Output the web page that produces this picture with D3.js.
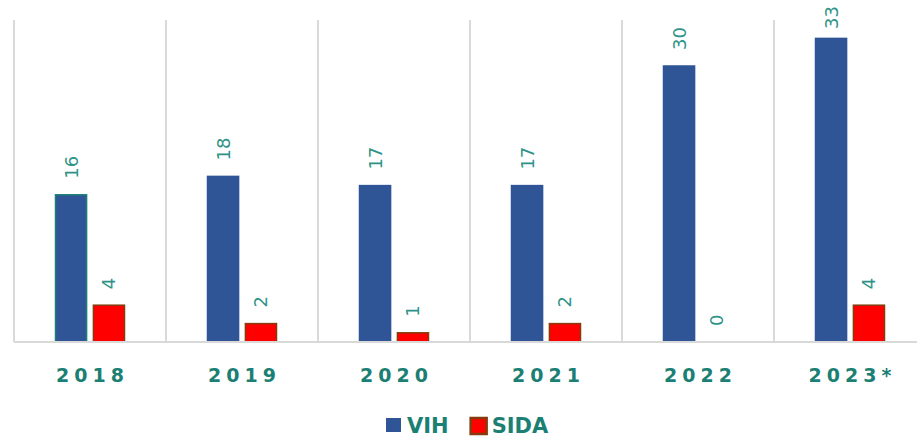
<!DOCTYPE html>
<html>
<head>
<meta charset="utf-8">
<script src="https://cdnjs.cloudflare.com/ajax/libs/d3/7.8.5/d3.min.js"></script>
<style>
    body { margin: 0; background: #fff; }
    svg { display: block; font-family: "DejaVu Sans", Verdana, sans-serif; }
</style>
</head>
<body>
<script>
(function(){

    //chart data
    var years = ["2018", "2019", "2020", "2021", "2022", "2023*"];
    var seriesNames = ["VIH", "SIDA"];
    var vih = [16, 18, 17, 17, 30, 33];
    var sida = [4, 2, 1, 2, 0, 4];

    var fills = {VIH: "#2f5597", SIDA: "#ff0000"};
    var strokes = {VIH: "#2f5597", SIDA: "#843c0c"};

    var width = 917, height = 437;
    var left = 14, baseline = 342, top = 20;

    //build rows for the bars
    var rows = [];
    years.forEach(function(y, i){
        rows.push({year: y, series: "VIH", value: vih[i], i: i});
        rows.push({year: y, series: "SIDA", value: sida[i], i: i});
    });

    var svg = d3.select("body")
        .append("svg")
        .attr("width", width)
        .attr("height", height);

    //scales
    var x0 = d3.scaleBand()
        .domain(years)
        .range([left, left + 152 * years.length]);

    var x1 = d3.scaleBand()
        .domain(seriesNames)
        .range([-34.5, 34.5])
        .paddingInner(0.18);

    var y = d3.scaleLinear()
        .domain([0, 35])
        .range([baseline, top]);

    //vertical gridlines between categories
    svg.selectAll(".grid")
        .data(years)
        .enter()
        .append("line")
        .attr("class", "grid")
        .attr("x1", function(d){ return x0(d); })
        .attr("x2", function(d){ return x0(d); })
        .attr("y1", y(35))
        .attr("y2", baseline)
        .style("stroke", "#d9d9d9")
        .style("stroke-width", 2);

    //bars
    svg.selectAll(".bar")
        .data(rows)
        .enter()
        .append("rect")
        .attr("class", "bar")
        .attr("x", function(d){ return x0(d.year) + x0.bandwidth() / 2 + x1(d.series); })
        .attr("width", x1.bandwidth())
        .attr("y", function(d){ return y(d.value); })
        .attr("height", function(d){ return baseline - y(d.value); })
        .style("fill", function(d){ return fills[d.series]; })
        .style("stroke", function(d){
            //first VIH bar is outlined in teal in the original
            if (d.series == "VIH" && d.i == 0) return "#1b7f74";
            return strokes[d.series];
        })
        .style("stroke-width", function(d){ return d.value > 0 ? 1.5 : 0; });

    //baseline
    svg.append("line")
        .attr("x1", left)
        .attr("x2", width)
        .attr("y1", baseline)
        .attr("y2", baseline)
        .style("stroke", "#d9d9d9")
        .style("stroke-width", 2);

    //rotated data labels, kept inside the top of the frame
    svg.selectAll(".label")
        .data(rows)
        .enter()
        .append("text")
        .attr("class", "label")
        .attr("dy", "0.36em")
        .attr("text-anchor", "start")
        .style("font-size", "18px")
        .style("fill", "#2e9488")
        .text(function(d){ return d.value; })
        .attr("transform", function(d){
            var cx = x0(d.year) + x0.bandwidth() / 2 + x1(d.series) + x1.bandwidth() / 2;
            var len = this.getComputedTextLength();
            var start = Math.max(y(d.value) - 16, 6 + len);
            return "translate(" + cx + "," + start + ") rotate(-90)";
        });

    //category axis
    var xAxis = d3.axisBottom(x0).tickSize(0).tickPadding(0);
    var axis = svg.append("g")
        .attr("transform", "translate(0," + 382 + ")")
        .call(xAxis);
    axis.select(".domain").remove();
    axis.selectAll("text")
        .attr("dy", 0)
        .attr("dx", "2.5px")
        .style("font-family", "'DejaVu Sans', Verdana, sans-serif")
        .style("font-size", "19px")
        .style("font-weight", "bold")
        .style("letter-spacing", "5px")
        .style("fill", "#1b7f74");

    //legend
    var legend = svg.append("g").attr("class", "legend");
    var lx = 386;
    seriesNames.forEach(function(name){
        legend.append("rect")
            .attr("x", lx)
            .attr("y", 418)
            .attr("width", name == "SIDA" ? 16 : 15)
            .attr("height", name == "SIDA" ? 16 : 14)
            .style("fill", fills[name])
            .style("stroke", name == "SIDA" ? strokes[name] : "none")
            .style("stroke-width", 2.5);
        var t = legend.append("text")
            .attr("x", lx + 21)
            .attr("y", 433)
            .style("font-size", "21px")
            .style("font-weight", "bold")
            .style("fill", "#1b7f74")
            .text(name);
        lx = lx + 21 + t.node().getComputedTextLength() + 22;
    });

})();
</script>
</body>
</html>
